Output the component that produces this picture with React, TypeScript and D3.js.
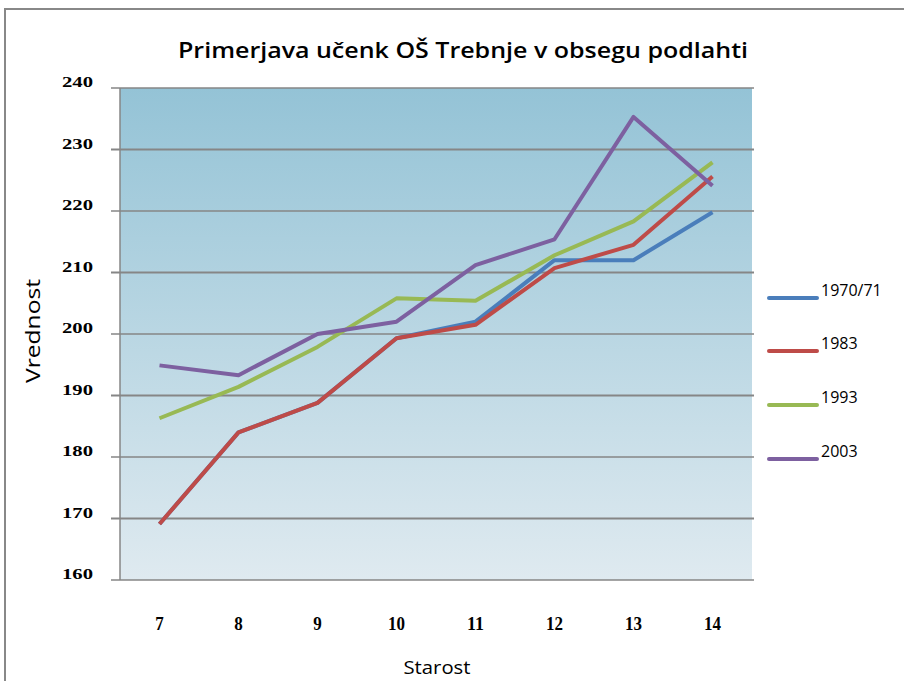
import React from "react";
import * as d3 from "d3";

const categories = ["7", "8", "9", "10", "11", "12", "13", "14"];
const seriesNames = ["1970/71", "1983", "1993", "2003"];
const s1970 = [169.1, 184.0, 188.8, 199.3, 202.0, 212.0, 212.0, 219.8];
const s1983 = [169.1, 184.0, 188.8, 199.3, 201.5, 210.7, 214.5, 225.6];
const s1993 = [186.3, 191.4, 197.9, 205.8, 205.4, 212.8, 218.3, 227.9];
const s2003 = [194.9, 193.3, 200.0, 202.0, 211.2, 215.4, 235.3, 224.1];
const yTicks = [160, 170, 180, 190, 200, 210, 220, 230, 240];
const colors = ["#4a7ebb", "#be4b48", "#98b954", "#7d60a0"];

const W = 904;
const H = 681;
const left = 120;
const right = 752;
const top = 88;
const bottom = 580;

export default function App() {
  const x = d3.scaleBand<string>().domain(categories).range([left, right]);
  const y = d3.scaleLinear().domain([160, 240]).range([bottom, top]);
  const series = [s1970, s1983, s1993, s2003];
  const line = d3
    .line<number>()
    .x((_, i) => (x(categories[i]) as number) + x.bandwidth() / 2)
    .y((d) => y(d));
  const legendY = [298, 351, 405, 459];

  return (
    <svg
      width={W}
      height={H}
      style={{ position: "absolute", left: 0, top: 0, background: "#fff" }}
    >
      <defs>
        <linearGradient id="bg" x1="0" y1="0" x2="0" y2="1">
          <stop offset="0" stopColor="#94c3d6" />
          <stop offset="1" stopColor="#dfeaf0" />
        </linearGradient>
      </defs>
      <rect x={5} y={9} width={W} height={H} fill="none" stroke="#888" strokeWidth={2} />
      <text
        x={463}
        y={58}
        textAnchor="middle"
        fontFamily="'Open Sans', 'DejaVu Sans', sans-serif"
        fontWeight={600}
        fontSize={22}
        textLength={570}
        lengthAdjust="spacingAndGlyphs"
        fill="#000"
      >
        Primerjava učenk OŠ Trebnje v obsegu podlahti
      </text>
      <rect x={left} y={top} width={right - left} height={bottom - top} fill="url(#bg)" />
      {yTicks.map((t) => (
        <g key={t}>
          <line x1={111} x2={right + 2} y1={y(t)} y2={y(t)} stroke="#868686" strokeWidth={t % 20 === 0 ? 1.3 : 1.8} />
          <text
            x={93}
            y={y(t) - 1}
            textAnchor="end"
            fontFamily="'Liberation Serif', serif"
            fontWeight="bold"
            fontSize={15}
            textLength={31}
            lengthAdjust="spacingAndGlyphs"
            fill="#000"
          >
            {t}
          </text>
        </g>
      ))}
      <line x1={left} x2={left} y1={top} y2={bottom} stroke="#868686" strokeWidth={1.5} />
      {categories.map((c) => (
        <text
          key={c}
          x={(x(c) as number) + x.bandwidth() / 2}
          y={630}
          textAnchor="middle"
          fontFamily="'Liberation Serif', serif"
          fontWeight="bold"
          fontSize={19}
          textLength={c.length * 8.5}
          lengthAdjust="spacingAndGlyphs"
          fill="#000"
        >
          {c}
        </text>
      ))}
      {series.map((s, i) => (
        <path
          key={i}
          d={line(s) as string}
          fill="none"
          stroke={colors[i]}
          strokeWidth={4}
          strokeLinejoin="round"
        />
      ))}
      {seriesNames.map((n, i) => (
        <g key={n}>
          <line x1={769} x2={817} y1={legendY[i]} y2={legendY[i]} stroke={colors[i]} strokeWidth={4} strokeLinecap="round" />
          <text
            x={821}
            y={legendY[i] - 2}
            fontFamily="'Open Sans', 'DejaVu Sans', sans-serif"
            fontSize={16}
            fill="#000"
          >
            {n}
          </text>
        </g>
      ))}
      <text
        x={437}
        y={674}
        textAnchor="middle"
        fontFamily="'Open Sans', 'DejaVu Sans', sans-serif"
        fontSize={19}
        textLength={67}
        lengthAdjust="spacingAndGlyphs"
        fill="#000"
      >
        Starost
      </text>
      <text
        transform="translate(40,331) rotate(-90)"
        textAnchor="middle"
        fontFamily="'Open Sans', 'DejaVu Sans', sans-serif"
        fontSize={20}
        textLength={104}
        lengthAdjust="spacingAndGlyphs"
        fill="#000"
      >
        Vrednost
      </text>
    </svg>
  );
}
